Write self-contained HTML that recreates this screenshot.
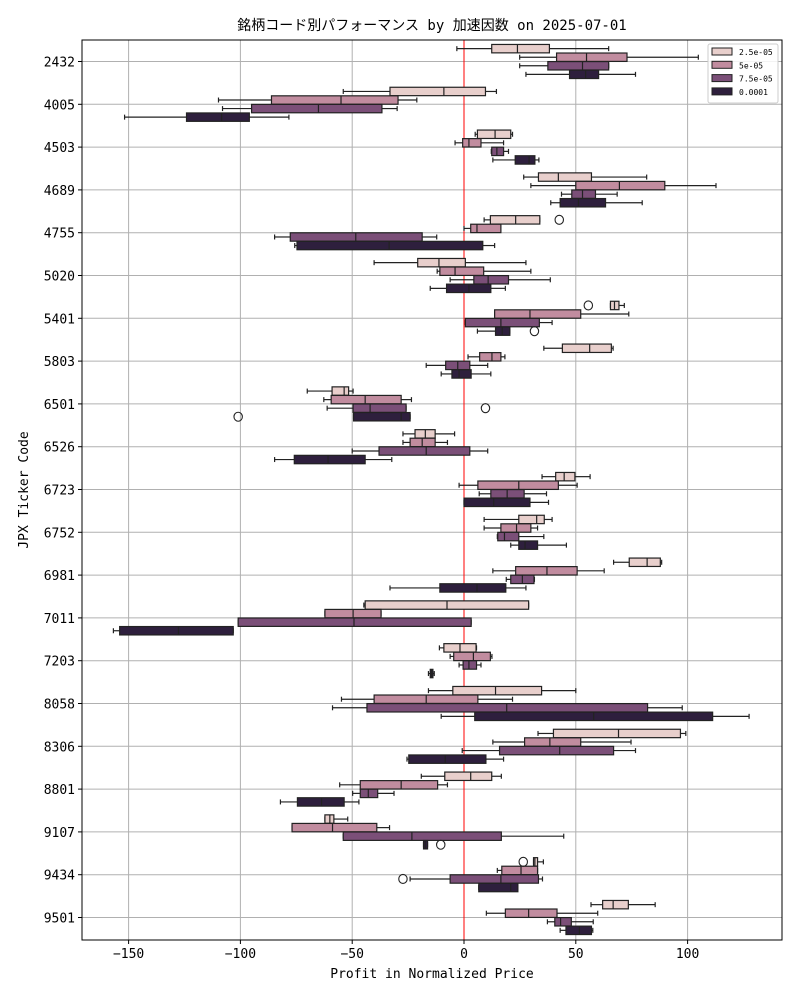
<!DOCTYPE html>
<html><head><meta charset="utf-8">
<style>
html,body{margin:0;padding:0;background:#fff;}
svg{display:block;font-family:"DejaVu Sans Mono","Liberation Mono","Noto Sans CJK JP",monospace;}
</style></head>
<body>
<svg id="chart" width="800" height="1000" viewBox="0 0 800 1000" xmlns="http://www.w3.org/2000/svg">
<rect width="800" height="1000" fill="#fff"/>
<text x="432" y="30" font-size="14" text-anchor="middle" fill="#000">銘柄コード別パフォーマンス by 加速因数 on 2025-07-01</text>
<g id="grid"></g>
<g id="marks"></g>
<g id="axes"></g>
<text x="432" y="978" font-size="13" text-anchor="middle">Profit in Normalized Price</text>
<text x="0" y="0" font-size="13" text-anchor="middle" transform="translate(28,490) rotate(-90)">JPX Ticker Code</text>
<g id="legend"></g>
</svg>
<script>
const categories = ["2432","4005","4503","4689","4755","5020","5401","5803","6501","6526","6723","6752","6981","7011","7203","8058","8306","8801","9107","9434","9501"];
const hues = ["2.5e-05","5e-05","7.5e-05","0.0001"];
const xTicks = [-150,-100,-50,0,50,100];
// [whiskerLow, q1, median, q3, whiskerHigh] per category per hue
const stats = [
 [[-3.2,12.4,23.9,38.2,64.7],[24.9,41.4,54.8,72.9,104.8],[24.9,37.5,53,64.7,64.7],[27.7,47.2,54.4,60.2,76.7]],
 [[-54,-33.1,-9,9.6,14.5],[-109.8,-86.1,-55,-29.5,-21.1],[-108,-95,-65.1,-36.7,-29.9],[-151.8,-124.1,-108.4,-96,-78.3]],
 [[5,6,13.9,20.9,21.7],[-4,-0.6,2.2,7.6,17.7],[12.2,12.4,14.7,17.7,19.9],[12.9,22.9,29.1,31.7,33.5]],
 [[26.7,33.3,42.2,57,81.7],[29.9,50,69.5,89.8,112.7],[43.6,48.2,53,58.8,68.5],[38.8,43,51.2,63.3,79.7]],
 [[9,11.8,23.1,33.9,33.9],[0,3,5.8,16.5,16.5],[-84.7,-77.7,-48.4,-18.7,-12.2],[-75.7,-74.7,-33.5,8.4,13.7]],
 [[-40.2,-20.7,-11.2,0.6,27.7],[-12,-10.8,-4,8.8,29.9],[-6.2,4.4,10.8,19.9,38.6],[-15.1,-7.8,2.2,12,18.5]],
 [[65.5,65.5,67.3,69.3,71.7],[13.7,13.7,29.5,52.2,73.7],[0.6,0.6,16.5,33.7,39.4],[6,14.1,17.1,20.5,20.5]],
 [[35.7,44,56.2,65.9,66.7],[1.8,7,12.5,16.5,18.3],[-16.9,-8.2,-2.8,2.6,10.6],[-10.2,-5.4,-2.2,3.2,12]],
 [[-70.1,-59,-53.6,-51.6,-49.6],[-62.7,-59.4,-44.2,-28.1,-23.5],[-61.2,-49.6,-42,-25.9,-25.9],[-49.4,-49.4,-28.1,-24.1,-24.1]],
 [[-27.3,-21.9,-17.3,-12.9,-4.2],[-27.3,-24.1,-18.7,-12.9,-7.4],[-50,-38,-16.9,2.6,10.6],[-84.7,-75.9,-60.8,-44.2,-32.3]],
 [[34.9,41,44.8,49.6,56.4],[-2.2,6.2,24.5,42.2,50.6],[6.8,12,19.3,26.9,36.9],[0,0,13.3,29.5,37.8]],
 [[9,24.5,32.5,35.9,39.4],[9,16.5,23.5,29.9,32.9],[14.9,15.1,18.1,24.5,35.7],[20.9,24.5,27.3,32.9,45.8]],
 [[66.9,73.9,81.9,87.8,88.4],[12.9,23.1,37.1,50.6,62.7],[18.9,20.9,26.1,31.3,31.5],[-33.1,-10.8,5.8,18.7,27.7]],
 [[-44.8,-44.2,-7.6,28.9,28.9],[-62.2,-62.2,-49.6,-37.1,-37.1],[-101,-101,-49.2,3.2,3.2],[-156.8,-154,-127.7,-103.2,-103.2]],
 [[-11,-9,-1.8,5.4,5.6],[-6.2,-4.6,4.2,11.8,12.5],[-2.2,-0.4,2.2,5.6,7.6],[-15.9,-15.1,-14.5,-13.9,-13.3]],
 [[-15.9,-5,14.1,34.7,50],[-54.8,-40.2,-16.9,6.2,21.7],[-58.8,-43.4,19.1,82.1,97.6],[-10.2,4.8,58,111.2,127.5]],
 [[33.1,40,69.1,96.8,99.2],[12.9,27.1,38.4,52.2,74.7],[-0.8,15.9,42.8,66.9,76.7],[-25.5,-24.7,-8.4,9.8,17.7]],
 [[-19.1,-8.6,3,12.4,16.7],[-55.6,-46.4,-28.1,-11.8,-7.4],[-49.8,-46.4,-42.8,-38.6,-31.3],[-82.1,-74.5,-63.7,-53.6,-47]],
 [[-62.2,-62.2,-60,-58.2,-52],[-76.9,-76.9,-58.8,-39,-33.3],[-54,-54,-23.3,16.7,44.6],[-18.1,-18.1,-17.3,-16.3,-16.3]],
 [[31.1,31.1,31.7,32.9,35.5],[14.9,16.9,25.5,32.9,32.9],[-24.1,-6.2,16.5,33.3,35.1],[6.6,6.6,20.9,24.1,24.1]],
 [[56.8,62,66.7,73.5,85.5],[10,18.5,28.9,41.6,59.8],[37.3,40.6,43.2,48,57.8],[43,45.6,51.6,57,57.6]]
];
// outliers: [categoryIndex, hueIndex, value]
const outliers = [[4,0,42.6],[6,0,55.6],[6,3,31.5],[8,2,9.6],[8,3,-101],[18,3,-10.4],[19,0,26.5],[19,2,-27.3]];
const colors = ["#e8cfcc","#c18c9f","#7b4f78","#2e1f3d"];

const NS="http://www.w3.org/2000/svg";
const L=82,R=782,T=40,B=940;
const x = v => 464 + v*2.236;
const y = i => 61.5 + i*42.8;
const BH = 8.4, OFF = 8.56;
function mk(tag, attrs, parent){const e=document.createElementNS(NS,tag);for(const k in attrs)e.setAttribute(k,attrs[k]);parent.appendChild(e);return e;}
const grid=document.getElementById('grid'), marks=document.getElementById('marks'), axes=document.getElementById('axes'), legend=document.getElementById('legend');

xTicks.forEach(t=>{
  const g=mk('line',{x1:x(t),x2:x(t),y1:T,y2:B,stroke:'#b0b0b0','stroke-width':1},grid);
  
  
  mk('line',{x1:x(t),x2:x(t),y1:B,y2:B+4,stroke:'#000'},axes);
  const tx=mk('text',{x:x(t),y:B+18,'font-size':13,'text-anchor':'middle'},axes);
  tx.textContent = t<0 ? '\u2212'+Math.abs(t) : String(t);
  
  
});
categories.forEach((c,i)=>{
  const g=mk('line',{x1:L,x2:R,y1:y(i),y2:y(i),stroke:'#b0b0b0','stroke-width':1},grid);
  
  
  mk('line',{x1:L-4,x2:L,y1:y(i),y2:y(i),stroke:'#000'},axes);
  const tx=mk('text',{x:L-7,y:y(i)+5,'font-size':13,'text-anchor':'end'},axes);
  tx.textContent=c;
  
  
});
const zl=mk('line',{x1:x(0),x2:x(0),y1:T,y2:B,stroke:'#ff0000','stroke-width':1},marks);



stats.forEach((row,i)=>{
  row.forEach((s,j)=>{
    const cy=y(i)+(j-1.5)*OFF;
    const g=mk('g',{},marks);
    
    
    const st={stroke:'#222','stroke-width':1.2};
    mk('line',Object.assign({x1:x(s[0]),x2:x(s[1]),y1:cy,y2:cy},st),g);
    mk('line',Object.assign({x1:x(s[3]),x2:x(s[4]),y1:cy,y2:cy},st),g);
    mk('line',Object.assign({x1:x(s[0]),x2:x(s[0]),y1:cy-2.5,y2:cy+2.5},st),g);
    mk('line',Object.assign({x1:x(s[4]),x2:x(s[4]),y1:cy-2.5,y2:cy+2.5},st),g);
    mk('rect',Object.assign({x:x(s[1]),y:cy-BH/2,width:Math.max(1,x(s[3])-x(s[1])),height:BH,fill:colors[j]},st),g);
    mk('line',Object.assign({x1:x(s[2]),x2:x(s[2]),y1:cy-BH/2,y2:cy+BH/2},st),g);
  });
});
outliers.forEach(o=>{
  const c=mk('ellipse',{cx:x(o[2]),cy:y(o[0])+(o[1]-1.5)*OFF,rx:4.2,ry:4.5,fill:'none',stroke:'#222','stroke-width':1.1},marks);
  
  
});
const fr=mk('rect',{x:L,y:T,width:R-L,height:B-T,fill:'none',stroke:'#000','stroke-width':1},axes);



const lb=mk('rect',{x:708,y:44,width:70,height:59,fill:'#fff','fill-opacity':0.85,stroke:'#ccc',rx:2},legend);


hues.forEach((h,j)=>{
  const ly=52+j*13.3;
  const p=mk('rect',{x:712,y:ly-4,width:20,height:7,fill:colors[j],stroke:'#222','stroke-width':1},legend);
  
  
  const t=mk('text',{x:739,y:ly+3,'font-size':8},legend);
  t.textContent=h;
  
  
});
</script>
</body></html>
